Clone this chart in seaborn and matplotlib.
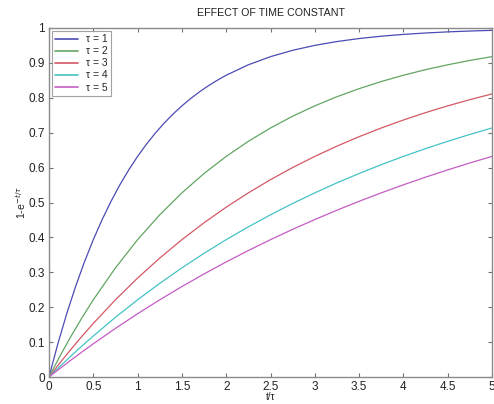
import numpy as np
import pandas as pd
import matplotlib
matplotlib.use("Agg")
import matplotlib.pyplot as plt
import seaborn as sns

# tau = 1 read at a finer spacing near the start, where it bends sharply
t_tau1 = [0.0, 0.1, 0.2, 0.3, 0.4, 0.5, 0.6, 0.7, 0.8, 0.9, 1.0,
          1.1, 1.2, 1.3, 1.4, 1.5, 1.6, 1.7, 1.8, 1.9, 2.0,
          2.25, 2.5, 2.75, 3.0, 3.25, 3.5, 3.75, 4.0, 4.25, 4.5, 4.75, 5.0]
tau1 = [0.0, 0.0952, 0.1813, 0.2592, 0.3297, 0.3935, 0.4512, 0.5034, 0.5507, 0.5934, 0.6321,
        0.6671, 0.6988, 0.7275, 0.7534, 0.7769, 0.7981, 0.8173, 0.8347, 0.8504, 0.8647,
        0.8946, 0.9179, 0.9361, 0.9502, 0.9612, 0.9698, 0.9765, 0.9817, 0.9857, 0.9889, 0.9913, 0.9933]

t_values = [0.0, 0.125, 0.25, 0.375, 0.5, 0.75, 1.0, 1.25, 1.5, 1.75, 2.0, 2.25, 2.5,
            2.75, 3.0, 3.25, 3.5, 3.75, 4.0, 4.25, 4.5, 4.75, 5.0]
tau2 = [0.0, 0.0606, 0.1175, 0.1710, 0.2212, 0.3127, 0.3935, 0.4647, 0.5276, 0.5831, 0.6321, 0.6753, 0.7135,
        0.7472, 0.7769, 0.8031, 0.8262, 0.8466, 0.8647, 0.8806, 0.8946, 0.9070, 0.9179]
tau3 = [0.0, 0.0408, 0.0800, 0.1175, 0.1535, 0.2212, 0.2835, 0.3408, 0.3935, 0.4420, 0.4866, 0.5276, 0.5654,
        0.6002, 0.6321, 0.6615, 0.6886, 0.7135, 0.7364, 0.7575, 0.7769, 0.7947, 0.8111]
tau4 = [0.0, 0.0308, 0.0606, 0.0895, 0.1175, 0.1710, 0.2212, 0.2684, 0.3127, 0.3544, 0.3935, 0.4302, 0.4647,
        0.4972, 0.5276, 0.5563, 0.5831, 0.6084, 0.6321, 0.6544, 0.6753, 0.6950, 0.7135]
tau5 = [0.0, 0.0247, 0.0488, 0.0723, 0.0952, 0.1393, 0.1813, 0.2212, 0.2592, 0.2953, 0.3297, 0.3624, 0.3935,
        0.4231, 0.4512, 0.4780, 0.5034, 0.5276, 0.5507, 0.5726, 0.5934, 0.6133, 0.6321]
series_labels = ["τ = 1", "τ = 2", "τ = 3", "τ = 4", "τ = 5"]
x_ticks = [0, 0.5, 1, 1.5, 2, 2.5, 3, 3.5, 4, 4.5, 5]
x_tick_labels = ["0", "0.5", "1", "1.5", "2", "2.5", "3", "3.5", "4", "4.5", "5"]
y_ticks = [0, 0.1, 0.2, 0.3, 0.4, 0.5, 0.6, 0.7, 0.8, 0.9, 1]
y_tick_labels = ["0", "0.1", "0.2", "0.3", "0.4", "0.5", "0.6", "0.7", "0.8", "0.9", "1"]

rows = []
series = [(t_tau1, tau1), (t_values, tau2), (t_values, tau3), (t_values, tau4), (t_values, tau5)]
for lab, (ts, vals) in zip(series_labels, series):
    for tv, v in zip(ts, vals):
        rows.append({"t": tv, "y": v, "tau": lab})
df = pd.DataFrame(rows)

sns.set_theme(style="white")
plt.rcParams['font.family'] = ['Liberation Sans', 'DejaVu Sans']

palette = ["#4b4bb5", "#62a562", "#d45866", "#45c2c4", "#c45cc4"]

fig = plt.figure(figsize=(4.94, 4.04), dpi=100)
ax = fig.add_axes([49/494, 1 - 377/404, (492-49)/494, (377-28)/404])
sns.lineplot(data=df, x="t", y="y", hue="tau", palette=palette, ax=ax,
             linewidth=0.9, legend=True)

ax.set_xlim(0, 5)
ax.set_ylim(0, 1)
ax.set_xticks(x_ticks)
ax.set_xticklabels(x_tick_labels)
ax.set_yticks(y_ticks)
ax.set_yticklabels(y_tick_labels)
ax.tick_params(direction="in", length=3, width=0.8, color="#707070",
               labelsize=8.5, top=True, right=True, bottom=True, left=True,
               pad=3, labelcolor="#222222")
for s in ax.spines.values():
    s.set_color("#8a8a8a")
    s.set_linewidth(1.0)

ax.set_title("EFFECT OF TIME CONSTANT", fontsize=7.7, pad=9, color="#222222")
ax.set_xlabel("t/τ", fontsize=7, labelpad=-1, color="#222222")
ax.set_ylabel(r"1-e$^{-t/\tau}$", fontsize=7.5, labelpad=0, color="#222222")

leg = ax.legend(loc="upper left", fontsize=7.5, frameon=True, fancybox=False,
                edgecolor="#8a8a8a", borderpad=0.3, handlelength=2.2,
                labelspacing=0.2, handletextpad=0.8, borderaxespad=0.3)
leg.get_frame().set_linewidth(0.8)
for line in leg.get_lines():
    line.set_linewidth(1.2)

fig.savefig("out.png", dpi=100)
